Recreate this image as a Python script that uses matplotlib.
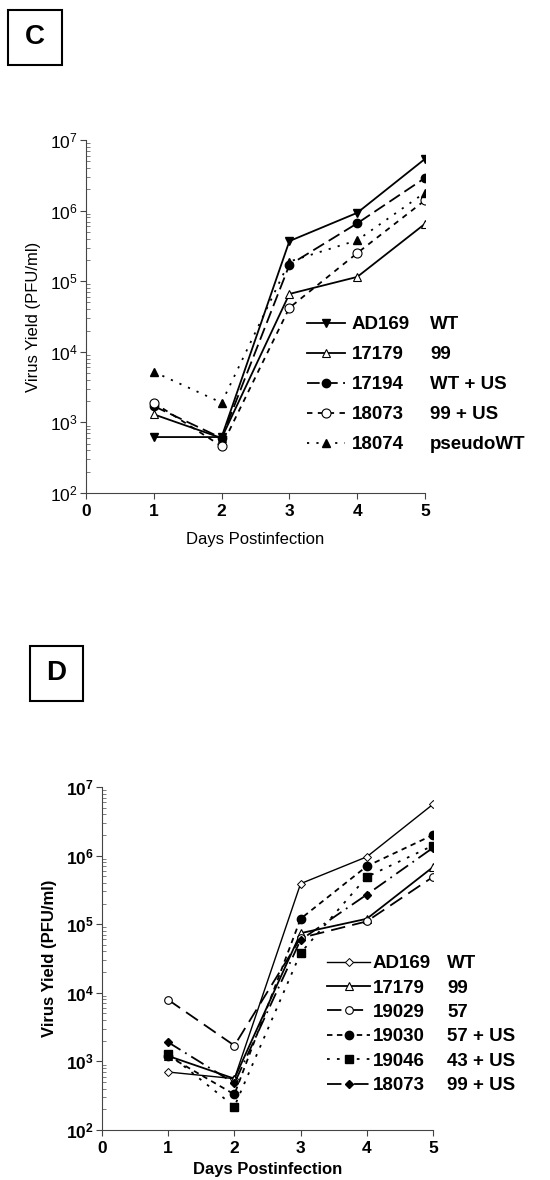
import matplotlib
matplotlib.use("Agg")
import matplotlib.pyplot as plt
from matplotlib.lines import Line2D
from matplotlib.ticker import FixedLocator, LogLocator, NullFormatter

plt.rcParams['font.family'] = ['Liberation Sans', 'DejaVu Sans']
plt.rcParams['mathtext.fontset'] = 'custom'
plt.rcParams['mathtext.rm'] = 'Liberation Sans'
plt.rcParams['mathtext.bf'] = 'Liberation Sans:bold'

# Datos
dias = [1, 2, 3, 4, 5]

# Panel C
cepas_c = ["AD169", "17179", "17194", "18073", "18074"]
tipo_c = ["WT", "99", "WT + US", "99 + US", "pseudoWT"]
ad169_c = [620, 620, 3.7e5, 9.3e5, 5.4e6]
s17179_c = [1.3e3, 600, 6.6e4, 1.15e5, 6.5e5]
s17194_c = [1.7e3, 600, 1.7e5, 6.6e5, 2.9e6]
s18073_c = [1.9e3, 460, 4.2e4, 2.5e5, 1.4e6]
s18074_c = [5.2e3, 1.9e3, 1.9e5, 3.8e5, 1.8e6]

# Panel D
cepas_d = ["AD169", "17179", "19029", "19030", "19046", "18073"]
tipo_d = ["WT", "99", "57", "57 + US", "43 + US", "99 + US"]
ad169_d = [700, 560, 3.9e5, 9.6e5, 5.6e6]
s17179_d = [1.2e3, 560, 7.4e4, 1.2e5, 6.8e5]
s19029_d = [7.9e3, 1.7e3, 6.3e4, 1.1e5, 4.9e5]
s19030_d = [1.2e3, 330, 1.2e5, 7.0e5, 2.0e6]
s19046_d = [1.3e3, 220, 3.8e4, 4.9e5, 1.4e6]
s18073_d = [1.9e3, 480, 5.9e4, 2.7e5, 1.3e6]

W, H = 550, 1180
fig = plt.figure(figsize=(5.5, 11.8), dpi=100)


def px_axes(x0, y_top, x1, y_bot):
    return fig.add_axes([x0 / W, 1 - y_bot / H, (x1 - x0) / W, (y_bot - y_top) / H])


def estilo_ejes(ax, peso_y, peso_x, peso_lab, pad_xlab):
    ax.set_yscale('log')
    ax.set_xlim(0, 5)
    ax.set_ylim(1e2, 1e7)
    for s in ['top', 'right']:
        ax.spines[s].set_visible(False)
    for s in ['left', 'bottom']:
        ax.spines[s].set_linewidth(0.8)
        ax.spines[s].set_color('#444444')
    ax.set_xticks([0, 1, 2, 3, 4, 5])
    ax.set_xticklabels(['0', '1', '2', '3', '4', '5'], fontsize=12.5, fontweight=peso_x)
    exps = [2, 3, 4, 5, 6, 7]
    ax.yaxis.set_major_locator(FixedLocator([10.0 ** e for e in exps]))
    if peso_y == 'bold':
        ax.set_yticklabels([r'$\mathbf{10^{%d}}$' % e for e in exps], fontsize=12.5)
    else:
        ax.set_yticklabels([r'$\mathrm{10^{%d}}$' % e for e in exps], fontsize=12.5)
    ax.yaxis.set_minor_locator(LogLocator(base=10, subs=range(2, 10)))
    ax.yaxis.set_minor_formatter(NullFormatter())
    ax.tick_params(axis='y', which='major', length=4, width=0.8, color='#444444', pad=2)
    ax.tick_params(axis='y', which='minor', direction='in', length=3, width=0.6, color='#666666')
    ax.tick_params(axis='x', length=4, width=0.8, color='#444444', pad=4)
    ax.set_xlabel('Days Postinfection', fontsize=12, fontweight=peso_lab, labelpad=pad_xlab)
    ax.set_ylabel('Virus Yield (PFU/ml)', fontsize=12, fontweight=peso_lab, labelpad=6)


def caja(x0, y0, x1, y1, letra):
    fig.patches.append(plt.Rectangle((x0 / W, 1 - y1 / H), (x1 - x0) / W, (y1 - y0) / H,
                                     transform=fig.transFigure, fill=False,
                                     edgecolor='black', linewidth=1.5))
    fig.text((x0 + x1) / 2 / W, 1 - (y0 + y1) / 2 / H, letra, ha='center', va='center',
             fontsize=20, fontweight='bold')


def leyenda(ax, handles, cepas, tipos, x_linea, x_tipo, y_top, esp, hlen, tpad):
    l1 = ax.legend(handles, cepas, loc='upper left', bbox_to_anchor=(x_linea / W, 1 - y_top / H),
                   bbox_transform=fig.transFigure, frameon=False, borderpad=0, borderaxespad=0,
                   handlelength=hlen, handletextpad=tpad, labelspacing=esp,
                   prop={'size': 13.5, 'weight': 'bold'})
    ax.add_artist(l1)
    vacios = [Line2D([], [], linestyle='none') for _ in tipos]
    ax.legend(vacios, tipos, loc='upper left', bbox_to_anchor=(x_tipo / W, 1 - y_top / H),
              bbox_transform=fig.transFigure, frameon=False, borderpad=0, borderaxespad=0,
              handlelength=0, handletextpad=0, labelspacing=esp,
              prop={'size': 13.5, 'weight': 'bold'})


lw = 1.3
k = 'black'

# ----- Panel C -----
caja(8, 10, 62, 65, 'C')
axc = px_axes(86, 140, 425, 493)
estilo_ejes(axc, 'normal', 'bold', 'normal', 9)
hc = []
hc.append(axc.plot(dias, ad169_c, color=k, lw=lw, marker='v', ms=6, mfc=k)[0])
hc.append(axc.plot(dias, s17179_c, color=k, lw=lw, marker='^', ms=6, mfc='white', mew=0.8)[0])
hc.append(axc.plot(dias, s17194_c, color=k, lw=lw, dashes=(7, 3), marker='o', ms=6, mfc=k)[0])
hc.append(axc.plot(dias, s18073_c, color=k, lw=lw, dashes=(3, 3), marker='o', ms=6.5, mfc='white', mew=0.8)[0])
hc.append(axc.plot(dias, s18074_c, color=k, lw=lw, dashes=(1.2, 4), marker='^', ms=6, mfc=k)[0])
leyenda(axc, hc, cepas_c, tipo_c, 307, 430, 316, 0.69, 2.03, 0.37)

# ----- Panel D -----
caja(30, 646, 83, 701, 'D')
axd = px_axes(102, 787, 433, 1130)
estilo_ejes(axd, 'bold', 'bold', 'bold', 4)
hd = []
hd.append(axd.plot(dias, ad169_d, color=k, lw=1.0, marker='D', ms=4, mfc='white', mew=0.7)[0])
hd.append(axd.plot(dias, s17179_d, color=k, lw=lw, marker='^', ms=6, mfc='white', mew=0.8)[0])
hd.append(axd.plot(dias, s19029_d, color=k, lw=lw, dashes=(8, 4), marker='o', ms=5.5, mfc='white', mew=0.8)[0])
hd.append(axd.plot(dias, s19030_d, color=k, lw=lw, dashes=(3, 2.5), marker='o', ms=6, mfc=k)[0])
hd.append(axd.plot(dias, s19046_d, color=k, lw=lw, dashes=(1.5, 4), marker='s', ms=6, mfc=k)[0])
hd.append(axd.plot(dias, s18073_d, color=k, lw=lw, dashes=(8, 3, 1, 3), marker='D', ms=4.5, mfc=k)[0])
leyenda(axd, hd, cepas_d, tipo_d, 327, 447, 955, 0.39, 2.3, 0.12)

fig.savefig('out.png', dpi=100)
